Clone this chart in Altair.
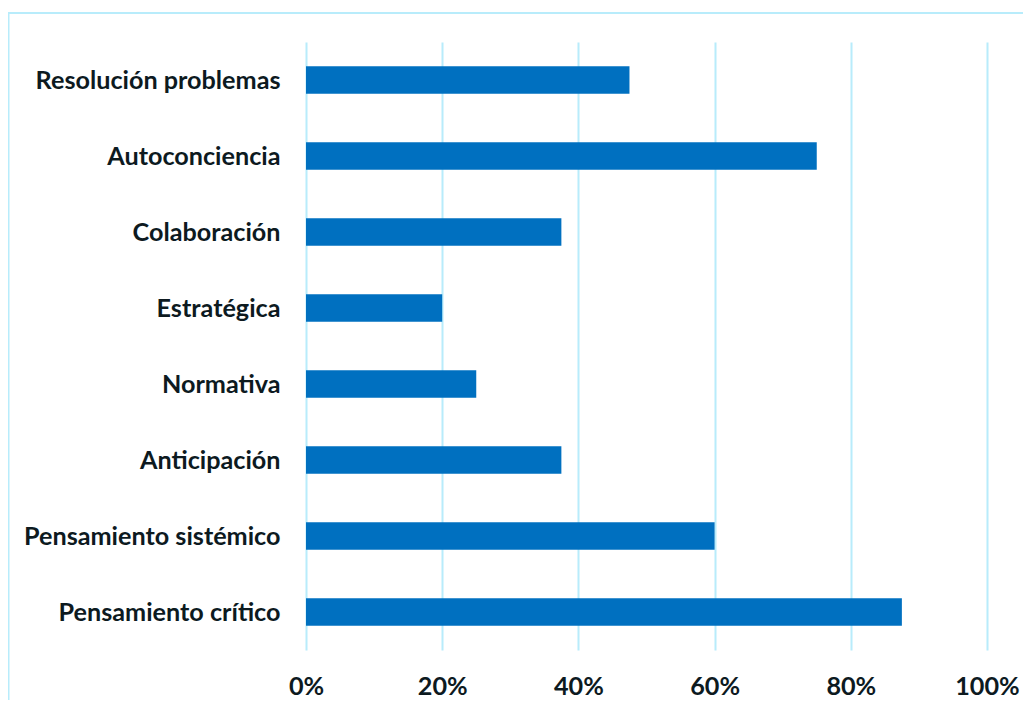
import altair as alt
import pandas as pd

categories = [
    "Resolución problemas",
    "Autoconciencia",
    "Colaboración",
    "Estratégica",
    "Normativa",
    "Anticipación",
    "Pensamiento sistémico",
    "Pensamiento crítico",
]
values = [0.475, 0.75, 0.375, 0.20, 0.25, 0.375, 0.60, 0.875]

df = pd.DataFrame({"cat": categories, "val": values})

W, H = 681, 608
FONT = "Lato"
TXT = "#0d1a1f"
FS = 25.2

bars = alt.Chart(df).mark_bar(color="#0070c0").encode(
    x=alt.X(
        "val:Q",
        scale=alt.Scale(domain=[0, 1]),
        axis=alt.Axis(
            format="%",
            values=[0, 0.2, 0.4, 0.6, 0.8, 1.0],
            grid=True,
            gridColor="#b8ecfb",
            gridWidth=2,
            domain=False,
            ticks=False,
            labelFont=FONT,
            labelFontWeight="bold",
            labelFontSize=FS,
            labelColor=TXT,
            labelPadding=24,
            labelFlush=False,
            title=None,
        ),
    ),
    y=alt.Y(
        "cat:N",
        sort=categories,
        scale=alt.Scale(paddingInner=0.64, paddingOuter=0.32),
        axis=alt.Axis(
            grid=False,
            domain=False,
            ticks=False,
            labelFont=FONT,
            labelFontWeight="bold",
            labelFontSize=FS,
            labelColor=TXT,
            labelPadding=26,
            labelLimit=400,
            labelBaseline="middle",
            labelOffset=1,
            title=None,
        ),
    ),
)

border = alt.Chart(pd.DataFrame({"a": [0]})).mark_rect(
    fill=None, stroke="#b8ecfb", strokeWidth=2
).encode(
    x=alt.value(-297.5),
    x2=alt.value(760),
    y=alt.value(-29),
    y2=alt.value(720),
)

chart = alt.layer(border, bars).properties(
    width=W,
    height=H,
    background="white",
    autosize=alt.AutoSizeParams(type="none"),
    padding={"left": 298, "top": 34, "right": 36, "bottom": 50},
).configure_view(stroke=None)

chart.save("out.html", embed_options={"renderer": "svg", "actions": False})
